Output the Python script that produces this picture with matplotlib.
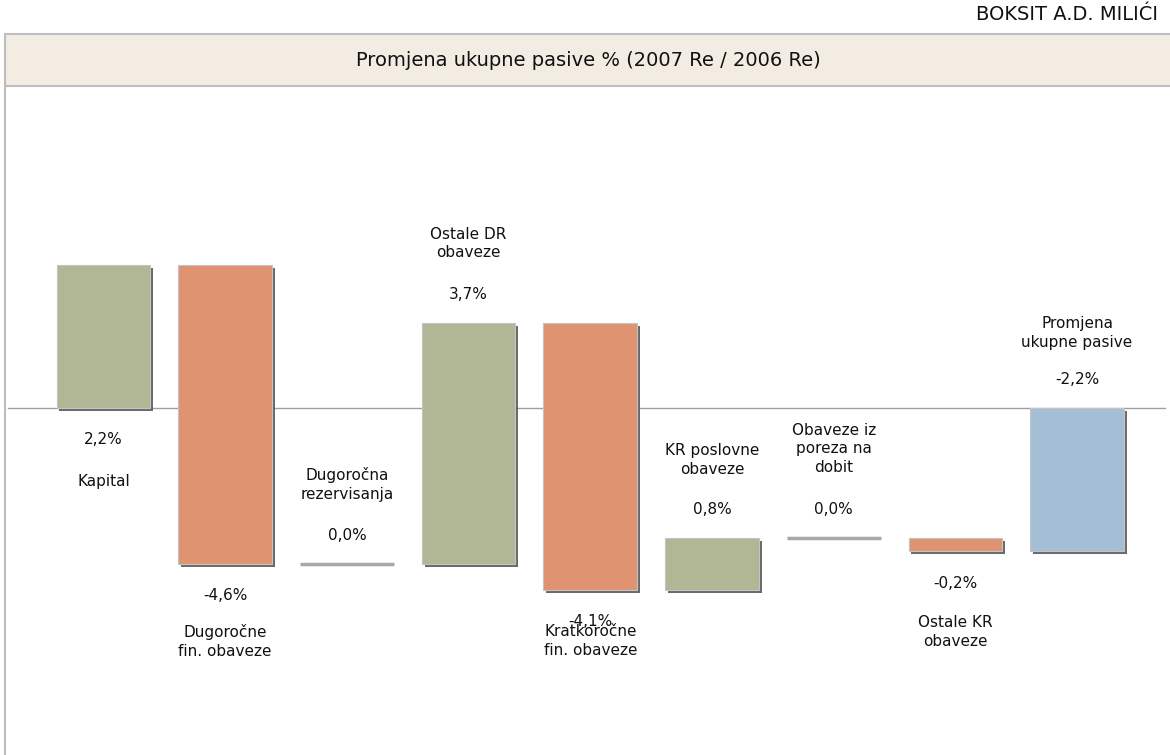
import numpy as np
import matplotlib
matplotlib.use('Agg')
import matplotlib.pyplot as plt
import matplotlib.patheffects as pe
from matplotlib.patches import Rectangle

# podaci
categories = ['Kapital', 'Dugoročne\nfin. obaveze', 'Dugoročna\nrezervisanja',
              'Ostale DR\nobaveze', 'Kratkoročne\nfin. obaveze', 'KR poslovne\nobaveze',
              'Obaveze iz\nporeza na\ndobit', 'Ostale KR\nobaveze', 'Promjena\nukupne pasive']
changes = [2.2, -4.6, 0.0, 3.7, -4.1, 0.8, 0.0, -0.2]
total = -2.2
value_labels = ['2,2%', '-4,6%', '0,0%', '3,7%', '-4,1%', '0,8%', '0,0%', '-0,2%', '-2,2%']

# raspored natpisa (iznad / ispod stupca) i razmak naziva u pikselima
label_side = ['below', 'below', 'above', 'above', 'below', 'above', 'above', 'below', 'above']
name_gap = [66, 60, 62, 63, 34, 61, 63, 64, 58]

green = '#B1B695'
orange = '#E09370'
blue = '#A4BED6'

plt.rcParams['font.family'] = 'DejaVu Sans'
fig = plt.figure(figsize=(11.7, 7.55), dpi=100)

W, H = 1170, 755
ax = fig.add_axes([5 / W, 0, (W - 5) / W, (H - 86) / H])

cum = np.concatenate([[0], np.cumsum(changes)])
x = np.arange(len(categories))
shadow = [pe.SimplePatchShadow(offset=(2.0, -2.0), shadow_rgbFace='#5A5A5A', alpha=0.9), pe.Normal()]

tops, bottoms = [], []
for i in range(len(categories)):
    if i < len(changes):
        start, end = cum[i], cum[i + 1]
        color = green if changes[i] > 0 else orange
    else:
        start, end = 0, total
        color = blue
    lo, hi = min(start, end), max(start, end)
    tops.append(hi)
    bottoms.append(lo)
    if hi - lo == 0:
        ax.bar(x[i], 0, bottom=lo, width=0.77, color='#A8A8A8', edgecolor='#A8A8A8', linewidth=2.5)
    else:
        ax.bar(x[i], hi - lo, bottom=lo, width=0.77, color=color, edgecolor='#C4C4C4',
               linewidth=0.8, path_effects=shadow)

fs = 11
for i in range(len(categories)):
    if label_side[i] == 'below':
        ax.annotate(value_labels[i], (x[i], bottoms[i]), xytext=(0, -32), textcoords='offset pixels',
                    ha='center', va='center', fontsize=fs, color='#111111')
        ax.annotate(categories[i], (x[i], bottoms[i]), xytext=(0, -name_gap[i]), textcoords='offset pixels',
                    ha='center', va='top', fontsize=fs, color='#111111', linespacing=1.3)
    else:
        ax.annotate(value_labels[i], (x[i], tops[i]), xytext=(0, 29), textcoords='offset pixels',
                    ha='center', va='center', fontsize=fs, color='#111111')
        ax.annotate(categories[i], (x[i], tops[i]), xytext=(0, name_gap[i]), textcoords='offset pixels',
                    ha='center', va='bottom', fontsize=fs, color='#111111', linespacing=1.3)

ax.axhline(0, xmin=0.0026, xmax=0.9957, color='#A0A0A0', linewidth=1, zorder=0)

ax.set_xlim(-(103.5 - 5) / 121.7, (W - 103.5) / 121.7)
ax.set_ylim(-(H - 408) / 65, (408 - 86) / 65)
ax.set_xticks([])
ax.set_yticks([])
for s in ['top', 'right', 'bottom']:
    ax.spines[s].set_visible(False)
ax.spines['left'].set_color('#BDBDBD')
ax.spines['left'].set_linewidth(1.5)

# traka s naslovom
fig.patches.append(Rectangle((5 / W, 1 - 86 / H), 1.0, 52 / H, transform=fig.transFigure,
                             facecolor='#F2ECE2', edgecolor='#BDBDBD', linewidth=1.5))
fig.text(588 / W, 1 - 61 / H, 'Promjena ukupne pasive % (2007 Re / 2006 Re)',
         ha='center', va='center', fontsize=14, color='#111111')
fig.text(1158 / W, 1 - 15 / H, 'BOKSIT A.D. MILIĆI', ha='right', va='center',
         fontsize=14, color='#111111')

fig.savefig('out.png', dpi=100)
